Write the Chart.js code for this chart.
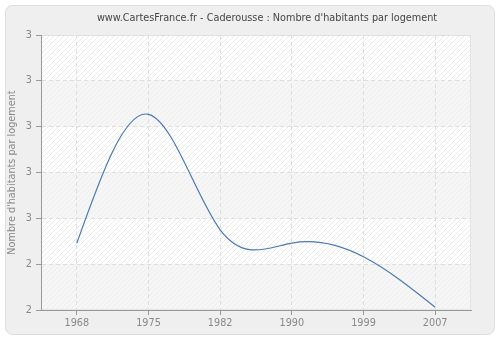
<!DOCTYPE html>
<html>
<head>
<meta charset="utf-8">
<script src="https://cdn.jsdelivr.net/npm/chart.js@4/dist/chart.umd.min.js"></script>
<style>
  html, body { margin: 0; padding: 0; background: #ffffff; }
  #wrap { width: 500px; height: 340px; position: relative; }
</style>
</head>
<body>
<div id="wrap"><canvas id="chart" width="500" height="340"></canvas></div>
<script>
// données
const annees = ['1968', '1975', '1982', '1990', '1999', '2007'];
const habitantsParLogement = [2.446, 2.727, 2.475, 2.446, 2.416, 2.306];
const titre = "www.CartesFrance.fr - Caderousse : Nombre d'habitants par logement";
const titreAxeY = "Nombre d'habitants par logement";

const police = 'DejaVu Sans, Verdana, sans-serif';
const taille = 9.7;

// motif hachuré (diagonales "/")
function creerMotif(ctx, fond, trait) {
  const pc = document.createElement('canvas');
  pc.width = 5; pc.height = 5;
  const p = pc.getContext('2d');
  p.fillStyle = fond;
  p.fillRect(0, 0, 5, 5);
  p.strokeStyle = trait;
  p.lineWidth = 1;
  p.beginPath();
  p.moveTo(0, 5); p.lineTo(5, 0);
  p.moveTo(-1, 1); p.lineTo(1, -1);
  p.moveTo(4, 6); p.lineTo(6, 4);
  p.stroke();
  return ctx.createPattern(pc, 'repeat');
}

// fond du cadre, titre et bandes hachurées de la zone de tracé
const fondPlugin = {
  id: 'fond',
  beforeDraw(chart) {
    const ctx = chart.ctx;
    const a = chart.chartArea;
    const ys = chart.scales.y;
    ctx.save();
    ctx.fillStyle = '#ffffff';
    ctx.fillRect(0, 0, chart.width, chart.height);
    // cadre arrondi
    const x = 5.5, y = 5.5, w = 489, h = 329, r = 7;
    ctx.beginPath();
    ctx.moveTo(x + r, y);
    ctx.arcTo(x + w, y, x + w, y + h, r);
    ctx.arcTo(x + w, y + h, x, y + h, r);
    ctx.arcTo(x, y + h, x, y, r);
    ctx.arcTo(x, y, x + w, y, r);
    ctx.closePath();
    ctx.fillStyle = '#efefef';
    ctx.fill();
    ctx.strokeStyle = '#dedede';
    ctx.lineWidth = 1;
    ctx.stroke();

    // titre
    ctx.fillStyle = '#444444';
    ctx.font = taille + 'px ' + police;
    ctx.textAlign = 'center';
    ctx.textBaseline = 'middle';
    ctx.fillText(titre, 267, 18);

    // zone de tracé
    const motifBlanc = creerMotif(ctx, '#ffffff', '#ebebeb');
    const motifGris = creerMotif(ctx, '#f6f6f6', '#ededed');
    const ticks = ys.ticks;
    for (let i = ticks.length - 1; i > 0; i--) {
      const yTop = ys.getPixelForValue(ticks[i].value);
      const yBas = ys.getPixelForValue(ticks[i - 1].value);
      const k = ticks.length - 1 - i;
      ctx.fillStyle = (k % 2 === 0) ? motifBlanc : motifGris;
      ctx.fillRect(a.left, yTop, a.right - a.left, yBas - yTop);
    }
    ctx.strokeStyle = '#e4e4e4';
    ctx.strokeRect(a.left + 0.5, a.top + 0.5, a.right - a.left - 1, a.bottom - a.top - 1);
    ctx.restore();
  }
};

// spline cubique naturelle : on remplace les points de contrôle calculés par Chart.js
const splinePlugin = {
  id: 'splineNaturelle',
  beforeDatasetDraw(chart, args) {
    const meta = args.meta;
    meta.dataset.updateControlPoints(chart.chartArea, meta.iScale.axis);
    const pts = meta.data;
    const n = pts.length;
    if (n < 3) return;
    const xs = pts.map(pt => pt.x);
    const ys = pts.map(pt => pt.y);
    const h = [];
    for (let i = 0; i < n - 1; i++) h.push(xs[i + 1] - xs[i]);
    // système tridiagonal pour les dérivées secondes (M0 = Mn-1 = 0)
    const M = new Array(n).fill(0);
    const a = [], b = [], c = [], d = [];
    for (let i = 1; i < n - 1; i++) {
      a.push(h[i - 1]);
      b.push(2 * (h[i - 1] + h[i]));
      c.push(h[i]);
      d.push(6 * ((ys[i + 1] - ys[i]) / h[i] - (ys[i] - ys[i - 1]) / h[i - 1]));
    }
    const m = b.length;
    for (let i = 1; i < m; i++) {
      const w = a[i] / b[i - 1];
      b[i] -= w * c[i - 1];
      d[i] -= w * d[i - 1];
    }
    const sol = new Array(m);
    sol[m - 1] = d[m - 1] / b[m - 1];
    for (let i = m - 2; i >= 0; i--) sol[i] = (d[i] - c[i] * sol[i + 1]) / b[i];
    for (let i = 0; i < m; i++) M[i + 1] = sol[i];
    for (let i = 0; i < n - 1; i++) {
      const pente = (ys[i + 1] - ys[i]) / h[i];
      const d0 = pente - h[i] * (2 * M[i] + M[i + 1]) / 6;
      const d1 = pente + h[i] * (M[i] + 2 * M[i + 1]) / 6;
      pts[i].cp2x = xs[i] + h[i] / 3;
      pts[i].cp2y = ys[i] + d0 * h[i] / 3;
      pts[i + 1].cp1x = xs[i + 1] - h[i] / 3;
      pts[i + 1].cp1y = ys[i + 1] - d1 * h[i] / 3;
    }
    meta.dataset._path = undefined;
  }
};

new Chart(document.getElementById('chart'), {
  type: 'line',
  data: {
    labels: annees,
    datasets: [{
      data: habitantsParLogement,
      borderColor: '#4a7ab0',
      borderWidth: 1.2,
      pointRadius: 0,
      tension: 0.4,
      fill: false
    }]
  },
  options: {
    responsive: false,
    animation: false,
    devicePixelRatio: 1,
    layout: { padding: { top: 35, right: 29, bottom: 0, left: 0 } },
    plugins: {
      legend: { display: false },
      tooltip: { enabled: false },
      title: { display: false }
    },
    scales: {
      x: {
        type: 'category',
        offset: true,
        afterFit(s) { s.height = 30; },
        grid: {
          color: '#dedede',
          lineWidth: 1,
          tickColor: '#999999',
          tickLength: 5
        },
        border: { display: true, color: '#999999', dash: [4, 3] },
        ticks: {
          color: '#888888',
          font: { family: police, size: taille },
          padding: 3,
          maxRotation: 0
        }
      },
      y: {
        min: 2.3,
        max: 2.9,
        afterFit(s) { s.width = 41; },
        grid: {
          color: '#dedede',
          lineWidth: 1,
          tickColor: '#999999',
          tickLength: 5
        },
        border: { display: true, color: '#999999', dash: [4, 3] },
        ticks: {
          stepSize: 0.1,
          color: '#888888',
          font: { family: police, size: taille },
          padding: 4,
          callback: (v) => Math.round(v).toString()
        },
        title: {
          display: true,
          text: titreAxeY,
          color: '#888888',
          font: { family: police, size: taille },
          padding: { top: 7, bottom: 0 }
        }
      }
    }
  },
  plugins: [fondPlugin, splinePlugin]
});
</script>
</body>
</html>
